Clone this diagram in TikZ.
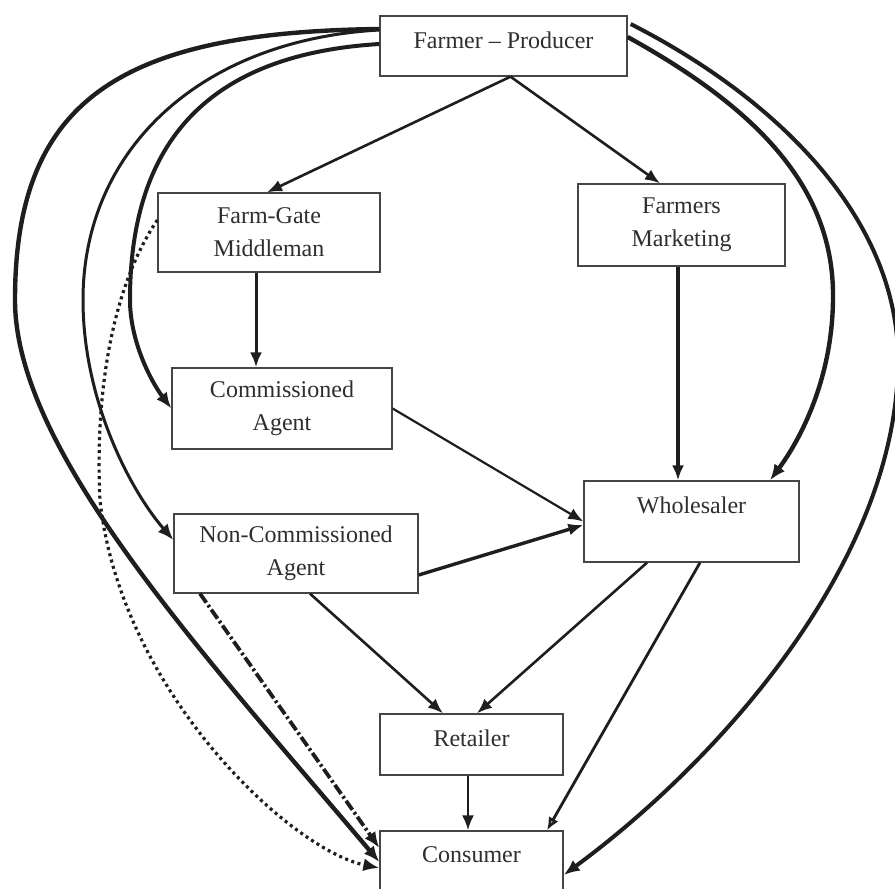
\documentclass[tikz,border=0pt]{standalone}
\usepackage{fontspec}
\setmainfont{Liberation Serif}
\usetikzlibrary{arrows.meta}
\definecolor{ink}{HTML}{1E1E1E}
\definecolor{boxline}{HTML}{454545}
\definecolor{txt}{HTML}{2E2E2E}
\begin{document}
\begin{tikzpicture}[x=1pt,y=-1pt,
  nodebox/.style={draw=boxline, line width=1.3pt, fill=white, text=txt, align=center,
    font=\fontsize{24}{33}\selectfont, inner sep=0pt},
  arr/.style={draw=ink, line width=2.6pt, -{Latex[length=15pt,width=12pt]}},
  openarr/.style={draw=ink, line width=2.8pt, -{Latex[open,length=13pt,width=11pt]}},
  crv/.style={draw=ink, line width=3.4pt, -{Latex[length=16pt,width=13pt]}},
  dotcrv/.style={draw=ink, line width=3.2pt, dash pattern=on 3pt off 3.5pt, -{Latex[length=16pt,width=13pt]}},
  dashdotcrv/.style={draw=ink, line width=3.8pt, dash pattern=on 11pt off 3pt on 2.5pt off 3pt, -{Latex[length=16pt,width=13pt]}}]
\useasboundingbox (0,0) rectangle (895,889);
\clip (0,0) rectangle (895,889);

% nodes
\node[nodebox, minimum width=247pt, minimum height=60pt] (farmer) at (503.5,46) {Farmer – Producer\\[-21pt]\phantom{}};
\node[nodebox, minimum width=222pt, minimum height=79pt] (fgm) at (269,232.5) {Farm-Gate\\Middleman};
\node[nodebox, minimum width=207pt, minimum height=82pt] (fmk) at (681.5,225) {Farmers\\Marketing};
\node[nodebox, minimum width=220pt, minimum height=81pt] (comm) at (282,408.5) {Commissioned\\Agent};
\node[nodebox, minimum width=244pt, minimum height=79pt] (noncomm) at (296,553.5) {Non-Commissioned\\Agent};
\node[nodebox, minimum width=215pt, minimum height=81pt] (whole) at (691.5,521.5) {Wholesaler\\ \phantom{W}};
\node[nodebox, minimum width=183pt, minimum height=61pt] (retail) at (471.5,744.5) {Retailer\\[-21pt]\phantom{}};
\node[nodebox, minimum width=183pt, minimum height=80pt] (consumer) at (471.5,871) {Consumer\\ \phantom{C}};

% straight connectors
\draw[arr] ([xshift=7pt]farmer.south) -- ([xshift=-2pt]fgm.north);
\draw[arr] ([xshift=7pt]farmer.south) -- ([xshift=-21.5pt]fmk.north);
\draw[arr, line width=3pt] ([xshift=-13pt]fgm.south) -- ([xshift=-26pt]comm.north);
\draw[arr, line width=3.2pt] ([xshift=-3.5pt]fmk.south) -- ([xshift=-13.5pt]whole.north);
\draw[arr, line width=2.2pt] (comm.east) -- (whole.west);
\draw[arr, line width=3.4pt] ([yshift=-21.5pt]noncomm.east) -- ([yshift=-3.5pt]whole.west);
\draw[arr] ([xshift=14pt]noncomm.south) -- ([xshift=-28.5pt]retail.north);
\draw[arr] ([xshift=-44.5pt]whole.south) -- ([xshift=5.5pt]retail.north);
\draw[openarr] ([xshift=8.5pt]whole.south) -- ([xshift=75.5pt]consumer.north);
\draw[arr] ([xshift=-3.5pt]retail.south) -- ([xshift=-3.5pt]consumer.north);

% curved connectors on the left
\draw[crv, line width=4.4pt] ([yshift=17pt]farmer.west) .. controls (120,32) and (15,100) .. (15,300)
  .. controls (15,450) and (200,650) .. ([yshift=9pt]consumer.west);
\draw[crv, line width=3pt] ([yshift=16pt]farmer.west) .. controls (200,40) and (83,150) .. (83,300)
  .. controls (83,400) and (130,490) .. ([yshift=13.5pt]noncomm.west);
\draw[crv, line width=4pt] ([yshift=2pt]farmer.west) .. controls (200,55) and (130,150) .. (130,300)
  .. controls (130,340) and (150,380) .. (comm.west);
\draw[dotcrv] ([yshift=12.5pt]fgm.west) .. controls (110,290) and (95,400) .. (100,500)
  .. controls (120,690) and (290,850) .. ([yshift=3pt]consumer.west);
\draw[dashdotcrv] ([xshift=-96pt]noncomm.south) -- ([yshift=23pt]consumer.west);

% curved connectors on the right
\draw[crv, line width=4pt] ([xshift=3pt,yshift=22pt]farmer.east) .. controls (780,100) and (898,220) .. (898,360)
  .. controls (898,560) and (720,760) .. ([yshift=-4pt]consumer.east);
\draw[crv, line width=4.4pt] ([yshift=9pt]farmer.east) .. controls (760,110) and (835,190) .. (833,300)
  .. controls (832,380) and (800,440) .. ([xshift=78.5pt]whole.north);
\end{tikzpicture}
\end{document}
